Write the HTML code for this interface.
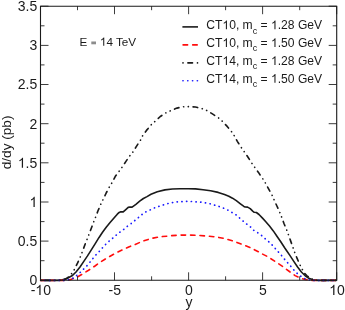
<!DOCTYPE html>
<html><head><meta charset="utf-8"><title>chart</title>
<style>html,body{margin:0;padding:0;background:#fff}svg{display:block;will-change:transform}text{font-family:"Liberation Sans",sans-serif;fill:#1a1a1a}.h{fill-opacity:0}</style></head>
<body>
<svg width="345" height="310" viewBox="0 0 345 310">
<rect x="0" y="0" width="345" height="310" fill="#fff"/>
<g fill="none" stroke-width="1.60" stroke-linejoin="round">
<path d="M40.5 280.4 L58.0 280.4 L62.5 279.7 L67.9 278.0 L72.0 275.8 L76.0 272.0 L80.0 267.0 L83.8 261.4 L87.5 255.9 L91.0 250.3 L95.4 243.4 L98.9 237.7 L102.7 232.0 L106.4 227.0 L110.3 222.3 L114.0 218.0 L117.3 214.2 L119.2 212.4 L120.8 211.8 L123.2 211.9 L125.8 209.6 L128.2 207.4 L130.0 207.0 L132.1 207.1 L135.9 204.3 L139.7 201.2 L143.4 198.5 L147.0 196.6 L151.0 194.3 L157.3 191.8 L164.9 189.9 L172.4 189.0 L180.0 188.7 L188.4 188.7 L195.5 188.9 L203.1 189.7 L210.6 190.8 L218.2 192.4 L224.5 194.6 L228.8 196.3 L232.5 198.2 L236.3 200.7 L240.1 203.6 L243.9 206.4 L245.2 207.0 L247.6 207.1 L250.2 208.6 L252.7 211.1 L254.2 212.3 L256.4 212.5 L259.0 214.5 L262.5 218.1 L265.8 221.8 L269.5 226.1 L273.3 230.9 L277.1 236.5 L280.6 241.5 L284.8 248.0 L286.5 250.5 L290.2 255.9 L293.8 261.4 L297.6 267.0 L301.4 272.0 L305.2 275.8 L308.9 278.3 L312.7 279.7 L317.7 280.4 L336.5 280.4" stroke="#1a1a1a"/>
<path d="M40.5 280.4 L65.0 280.4 L70.1 279.7 L76.4 277.5 L82.7 273.9 L87.7 270.8 L92.7 267.5 L95.0 266.0 L100.7 261.9 L106.3 258.4 L111.9 255.2 L117.6 252.1 L123.3 249.4 L129.3 246.7 L135.0 244.5 L139.4 242.6 L143.2 241.0 L148.8 239.2 L152.6 238.2 L158.9 237.0 L162.0 236.6 L167.7 236.1 L170.8 235.7 L177.1 235.3 L180.4 235.1 L186.7 235.1 L189.8 235.1 L196.1 235.3 L199.3 235.5 L205.6 236.0 L208.7 236.2 L215.0 236.9 L218.1 237.3 L224.1 238.4 L227.2 239.3 L233.0 241.0 L236.1 242.1 L241.8 244.3 L244.9 245.5 L250.6 247.7 L253.4 249.2 L258.6 251.8 L261.9 253.8 L267.0 256.3 L270.1 258.2 L275.2 261.5 L278.3 263.6 L282.7 266.5 L285.0 268.3 L290.1 272.0 L295.1 275.6 L300.1 278.0 L305.2 279.4 L310.2 280.4 L336.5 280.4" stroke="#ff0d0d" stroke-linecap="round" stroke-dasharray="4.50 4.94" stroke-dashoffset="9.29"/>
<path d="M40.5 280.4 L60.0 280.4 L63.5 279.8 L66.6 278.7 L70.5 275.2 L74.4 269.5 L77.5 263.2 L80.6 256.3 L82.7 250.7 L85.7 242.7 L88.8 234.9 L91.2 228.5 L93.9 221.4 L95.5 217.3 L98.0 210.8 L100.8 204.2 L103.1 199.6 L106.2 193.0 L109.2 187.3 L111.7 183.2 L115.2 176.6 L119.4 170.9 L122.0 167.3 L125.8 161.6 L129.8 155.8 L132.9 152.0 L136.6 146.1 L140.5 140.1 L142.6 135.8 L146.5 130.4 L151.3 124.7 L154.8 121.5 L160.3 116.5 L166.0 112.8 L169.9 111.0 L177.0 108.1 L183.0 106.8 L188.2 106.6 L195.4 107.0 L202.3 108.7 L206.4 110.3 L212.4 113.9 L218.4 117.8 L222.2 121.1 L227.2 126.4 L231.4 131.5 L234.1 135.5 L237.5 141.6 L241.3 147.6 L244.1 151.5 L248.2 157.5 L252.0 163.5 L254.7 167.3 L258.9 173.1 L262.7 178.7 L265.2 182.7 L268.6 188.9 L272.1 195.2 L274.0 199.6 L276.9 206.0 L279.8 212.4 L281.4 216.5 L284.0 223.5 L286.9 230.5 L288.4 234.6 L290.7 241.1 L293.1 247.8 L294.5 251.9 L297.0 258.2 L299.5 263.9 L302.0 268.9 L304.5 273.3 L307.0 275.8 L310.2 278.3 L314.0 279.8 L318.0 280.4 L336.5 280.4" stroke="#1a1a1a" stroke-linecap="round" stroke-width="1.65" stroke-dasharray="0.10 4.73 4.60 4.73 0.10 4.62" stroke-dashoffset="18.51"/>
<path d="M40.5 280.4 L66.0 280.4 L70.1 279.3 L73.9 277.8 L77.6 274.7 L81.4 271.3 L85.2 267.5 L88.3 264.3 L90.8 261.0 L94.0 257.2 L96.5 254.2 L99.8 250.9 L102.9 247.3 L106.1 243.9 L109.6 240.7 L113.3 237.7 L116.8 234.6 L120.6 231.6 L124.3 229.0 L127.7 226.0 L131.1 223.6 L134.9 220.5 L138.4 217.6 L141.9 214.6 L146.0 211.8 L150.4 209.8 L154.7 207.8 L159.0 206.3 L163.6 204.8 L168.0 203.5 L172.7 202.5 L177.4 201.9 L182.2 201.6 L186.9 201.4 L191.4 201.5 L196.2 201.9 L200.8 202.2 L205.6 202.9 L210.3 203.8 L214.8 205.2 L219.2 206.5 L223.6 208.2 L227.9 210.1 L231.9 212.4 L236.1 214.9 L239.5 217.9 L243.0 221.0 L246.6 224.0 L250.8 227.2 L253.4 230.1 L257.5 232.6 L261.3 235.3 L264.8 238.4 L268.5 241.5 L271.8 244.6 L274.9 248.1 L277.9 251.5 L281.1 255.0 L284.0 258.6 L287.1 262.2 L290.2 265.6 L293.2 269.3 L296.4 272.7 L300.1 275.8 L303.9 278.3 L307.7 279.7 L312.0 280.4 L336.5 280.4" stroke="#1a1aff" stroke-linecap="round" stroke-width="1.7" stroke-dasharray="0.20 4.52" stroke-dashoffset="0.40"/>
</g>
<path d="M40.5 6.2 H336.7 V280.3 H40.5 Z" fill="none" stroke="#1a1a1a" stroke-width="1.1"/>
<path d="M40.5 280.3 v-8.0 M40.5 6.2 v8.0 M77.5 280.3 v-4.0 M77.5 6.2 v4.0 M114.5 280.3 v-8.0 M114.5 6.2 v8.0 M151.6 280.3 v-4.0 M151.6 6.2 v4.0 M188.6 280.3 v-8.0 M188.6 6.2 v8.0 M225.6 280.3 v-4.0 M225.6 6.2 v4.0 M262.6 280.3 v-8.0 M262.6 6.2 v8.0 M299.7 280.3 v-4.0 M299.7 6.2 v4.0 M336.7 280.3 v-8.0 M336.7 6.2 v8.0 M40.5 280.3 h8.0 M336.7 280.3 h-8.0 M40.5 260.7 h4.0 M336.7 260.7 h-4.0 M40.5 241.1 h8.0 M336.7 241.1 h-8.0 M40.5 221.6 h4.0 M336.7 221.6 h-4.0 M40.5 202.0 h8.0 M336.7 202.0 h-8.0 M40.5 182.4 h4.0 M336.7 182.4 h-4.0 M40.5 162.8 h8.0 M336.7 162.8 h-8.0 M40.5 143.2 h4.0 M336.7 143.2 h-4.0 M40.5 123.7 h8.0 M336.7 123.7 h-8.0 M40.5 104.1 h4.0 M336.7 104.1 h-4.0 M40.5 84.5 h8.0 M336.7 84.5 h-8.0 M40.5 64.9 h4.0 M336.7 64.9 h-4.0 M40.5 45.4 h8.0 M336.7 45.4 h-8.0 M40.5 25.8 h4.0 M336.7 25.8 h-4.0 M40.5 6.2 h8.0 M336.7 6.2 h-8.0" fill="none" stroke="#1a1a1a" stroke-width="0.85"/>
<g font-size="14px">
<text x="37.3" y="285.2" text-anchor="end">0</text>
<text x="37.3" y="246.0" text-anchor="end">0.5</text>
<text x="37.3" y="206.9" text-anchor="end"><tspan class="h">1</tspan></text>
<text x="37.3" y="167.7" text-anchor="end"><tspan class="h">1</tspan>.5</text>
<text x="37.3" y="128.6" text-anchor="end">2</text>
<text x="37.3" y="89.4" text-anchor="end">2.5</text>
<text x="37.3" y="50.3" text-anchor="end">3</text>
<text x="37.3" y="11.1" text-anchor="end">3.5</text>
<text x="40.8" y="294.9" text-anchor="middle">-<tspan class="h">1</tspan>0</text>
<text x="114.8" y="294.9" text-anchor="middle">-5</text>
<text x="188.9" y="294.9" text-anchor="middle">0</text>
<text x="262.9" y="294.9" text-anchor="middle">5</text>
<text x="337.0" y="294.9" text-anchor="middle"><tspan class="h">1</tspan>0</text>
<text x="188.9" y="306.5" text-anchor="middle">y</text>
<text transform="translate(10.6 142.4) rotate(-90)" text-anchor="middle" font-size="13.6px">d/dy (pb)</text>
</g>
<text x="79.6" y="45.8" font-size="11.7px">E</text>
<rect x="91.3" y="41.5" width="4.7" height="2.8" fill="#8c8c8c"/>
<text x="99.9" y="45.8" font-size="11.7px"><tspan class="h">1</tspan>4 TeV</text>
<path d="M182.4 26.9 H198.0" fill="none" stroke-width="1.60" stroke="#1a1a1a"/>
<text x="206.3" y="29.2" font-size="12.1px">CT<tspan class="h">1</tspan>0, m<tspan font-size="9px" dy="4.3">c</tspan><tspan dy="-4.3"> = <tspan class="h">1</tspan>.28 GeV</tspan></text>
<path d="M182.4 44.9 H198.0" fill="none" stroke-width="1.60" stroke="#ff0d0d" stroke-linecap="round" stroke-dasharray="4.5 5.1" stroke-dashoffset="-0.7"/>
<text x="206.3" y="47.0" font-size="12.1px">CT<tspan class="h">1</tspan>0, m<tspan font-size="9px" dy="4.3">c</tspan><tspan dy="-4.3"> = <tspan class="h">1</tspan>.50 GeV</tspan></text>
<path d="M182.4 62.9 H198.0" fill="none" stroke-width="1.60" stroke="#1a1a1a" stroke-linecap="round" stroke-dasharray="0.1 4.85 4.6 4.95 0.1 10" stroke-dashoffset="-0.55"/>
<text x="206.3" y="64.9" font-size="12.1px">CT<tspan class="h">1</tspan>4, m<tspan font-size="9px" dy="4.3">c</tspan><tspan dy="-4.3"> = <tspan class="h">1</tspan>.28 GeV</tspan></text>
<path d="M182.4 80.8 H198.0" fill="none" stroke-width="1.60" stroke="#1a1aff" stroke-linecap="round" stroke-dasharray="0.2 4.6" stroke-dashoffset="-0.5"/>
<text x="206.3" y="82.8" font-size="12.1px">CT<tspan class="h">1</tspan>4, m<tspan font-size="9px" dy="4.3">c</tspan><tspan dy="-4.3"> = <tspan class="h">1</tspan>.50 GeV</tspan></text>
<g fill="#1a1a1a">
<path d="M763 0H583V1147Q518 1085 412.5 1023Q307 961 223 930V1104Q374 1175 487 1276Q600 1377 647 1472H763Z" transform="translate(29.50 206.90) scale(0.00684 -0.00684)"/>
<path d="M763 0H583V1147Q518 1085 412.5 1023Q307 961 223 930V1104Q374 1175 487 1276Q600 1377 647 1472H763Z" transform="translate(17.82 167.70) scale(0.00684 -0.00684)"/>
<path d="M763 0H583V1147Q518 1085 412.5 1023Q307 961 223 930V1104Q374 1175 487 1276Q600 1377 647 1472H763Z" transform="translate(35.34 294.90) scale(0.00684 -0.00684)"/>
<path d="M763 0H583V1147Q518 1085 412.5 1023Q307 961 223 930V1104Q374 1175 487 1276Q600 1377 647 1472H763Z" transform="translate(329.20 294.90) scale(0.00684 -0.00684)"/>
<path d="M763 0H583V1147Q518 1085 412.5 1023Q307 961 223 930V1104Q374 1175 487 1276Q600 1377 647 1472H763Z" transform="translate(99.90 45.80) scale(0.00571 -0.00571)"/>
<path d="M763 0H583V1147Q518 1085 412.5 1023Q307 961 223 930V1104Q374 1175 487 1276Q600 1377 647 1472H763Z" transform="translate(222.43 29.20) scale(0.00591 -0.00591)"/>
<path d="M763 0H583V1147Q518 1085 412.5 1023Q307 961 223 930V1104Q374 1175 487 1276Q600 1377 647 1472H763Z" transform="translate(270.99 29.20) scale(0.00591 -0.00591)"/>
<path d="M763 0H583V1147Q518 1085 412.5 1023Q307 961 223 930V1104Q374 1175 487 1276Q600 1377 647 1472H763Z" transform="translate(222.43 47.00) scale(0.00591 -0.00591)"/>
<path d="M763 0H583V1147Q518 1085 412.5 1023Q307 961 223 930V1104Q374 1175 487 1276Q600 1377 647 1472H763Z" transform="translate(270.99 47.00) scale(0.00591 -0.00591)"/>
<path d="M763 0H583V1147Q518 1085 412.5 1023Q307 961 223 930V1104Q374 1175 487 1276Q600 1377 647 1472H763Z" transform="translate(222.43 64.90) scale(0.00591 -0.00591)"/>
<path d="M763 0H583V1147Q518 1085 412.5 1023Q307 961 223 930V1104Q374 1175 487 1276Q600 1377 647 1472H763Z" transform="translate(270.99 64.90) scale(0.00591 -0.00591)"/>
<path d="M763 0H583V1147Q518 1085 412.5 1023Q307 961 223 930V1104Q374 1175 487 1276Q600 1377 647 1472H763Z" transform="translate(222.43 82.80) scale(0.00591 -0.00591)"/>
<path d="M763 0H583V1147Q518 1085 412.5 1023Q307 961 223 930V1104Q374 1175 487 1276Q600 1377 647 1472H763Z" transform="translate(270.99 82.80) scale(0.00591 -0.00591)"/>
</g>
</svg>
</body></html>
